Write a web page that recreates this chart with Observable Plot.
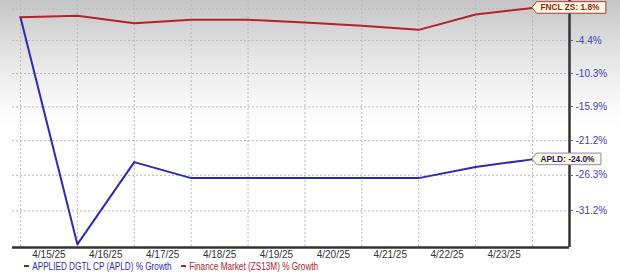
<!DOCTYPE html>
<html><head><meta charset="utf-8">
<script src="https://cdn.jsdelivr.net/npm/d3@7"></script>
<script src="https://cdn.jsdelivr.net/npm/@observablehq/plot@0.6"></script>
<style>
html,body{margin:0;padding:0;}
body{width:620px;height:276px;overflow:hidden;background:linear-gradient(#c5c5c5 0px,#e4e4e4 55px,#fbfbfb 110px,#ffffff 130px,#ffffff 276px);font-family:"Liberation Sans",Arial,sans-serif;}
#chart svg{display:block;overflow:visible;}
#legend{position:relative;height:17px;font:10px "Liberation Sans",Arial,sans-serif;line-height:13px;}
#legend .item{position:absolute;top:1px;white-space:nowrap;transform:scaleX(0.82);transform-origin:0 50%;}
#legend .mk{display:inline-block;width:6px;height:2px;vertical-align:middle;margin-right:4px;position:relative;top:-1px;}
</style>
</head><body>
<div id="chart"></div>
<div id="legend"></div>
<script>
// ---- data ----
const tickLabels = ["4/15/25","4/16/25","4/17/25","4/18/25","4/19/25","4/20/25","4/21/25","4/22/25","4/23/25"];
const apldGrowth = [0, -35.5, -24.4, -26.7, -26.7, -26.7, -26.7, -26.7, -25.1, -24.0];
const fnclGrowth = [0, 0.27, -1.16, -0.5, -0.5, -1.0, -1.65, -2.41, 0.52, 1.8];
const yTickValues = [-4.4, -10.3, -15.9, -21.2, -26.3, -31.2];
const yGridValues = [1.6, -4.4, -10.3, -15.9, -21.2, -26.3, -31.2];
const seriesNames = ["APPLIED DGTL CP (APLD) % Growth", "Finance Market (ZS13M) % Growth"];
const endLabels = ["APLD: -24.0%", "FNCL ZS: 1.8%"];

const blue = "#2b2bb3", red = "#b3222a";
const f = p => 1 + p / 100;
const apld = apldGrowth.map((v, i) => ({i, v}));
const fncl = fnclGrowth.map((v, i) => ({i, v}));
const xDomain = [-0.14, 9.65];
const yDomain = [0.6411, 1.0328];
const yTicks = yTickValues.map(t => ({t, y: f(t)}));

const chart = Plot.plot({
  width: 620, height: 259,
  marginLeft: 12, marginRight: 51, marginTop: 0, marginBottom: 12,
  style: {background: "transparent", fontFamily: "'Liberation Sans', Arial, sans-serif", fontSize: "10px", overflow: "visible"},
  x: {type: "linear", domain: xDomain, label: null},
  y: {type: "log", domain: yDomain, label: null, axis: null},
  marks: [
    Plot.ruleX(d3.range(apldGrowth.length), {stroke: "#b8b8b8", strokeDasharray: "2,2", strokeWidth: 1}),
    Plot.ruleY(yGridValues.map(f), {stroke: "#b8b8b8", strokeDasharray: "2,2", strokeWidth: 1}),
    Plot.ruleY([yDomain[0]], {stroke: "#333", strokeWidth: 2.5}),
    Plot.ruleX([xDomain[1]], {stroke: "#333", strokeWidth: 2.5}),
    Plot.line(apld, {x: "i", y: d => f(d.v), stroke: blue, strokeWidth: 2}),
    Plot.line(fncl, {x: "i", y: d => f(d.v), stroke: red, strokeWidth: 2}),
    Plot.axisX(tickLabels.map((_, k) => k + 0.5), {tickSize: 0, tickPadding: 3, fill: "#333", fontSize: 10, tickFormat: d => tickLabels[Math.round(d - 0.5)]}),
    Plot.text(yTicks, {y: "y", x: xDomain[1], dx: 6, textAnchor: "start", fill: "#4242b4", fontSize: 10, text: d => d.t.toFixed(1) + "%"})
  ]
});
document.getElementById("chart").appendChild(chart);

const sx = chart.scale("x"), sy = chart.scale("y");
const svg = d3.select(chart);

// ---- right-axis tick marks through the plot's scales ----
const tg = svg.append("g").attr("stroke", "#5a5ab8").attr("stroke-width", 1);
for (const d of yTicks) {
  const xx = sx.apply(xDomain[1]), yy = Math.round(sy.apply(d.y)) + 0.5;
  tg.append("line").attr("x1", xx + 1).attr("x2", xx + 4).attr("y1", yy).attr("y2", yy);
}

// ---- end-of-series callouts, positioned through the plot's scales ----
const callouts = [
  {series: apldGrowth, text: endLabels[0], stroke: "#8a8ac0", color: "#20206a"},
  {series: fnclGrowth, text: endLabels[1], stroke: "#b03a3a", color: "#9a1a1a"}
];
for (const c of callouts) {
  const last = c.series.length - 1;
  const px = sx.apply(last), py = sy.apply(f(c.series[last]));
  const g = svg.append("g");
  const path = g.append("path");
  const t = g.append("text")
    .attr("x", px + 8.5).attr("y", py).attr("dy", "0.35em")
    .attr("text-anchor", "start")
    .attr("fill", c.color)
    .style("font", "bold 8.3px 'Liberation Sans', Arial, sans-serif")
    .text(c.text);
  const w = t.node().getComputedTextLength();
  const r = px + 8.5 + w + 6.5, h = 5.8;
  path.attr("d", `M${px},${py}L${px + 4.5},${py - h}L${r},${py - h}L${r},${py + h}L${px + 4.5},${py + h}Z`)
    .attr("fill", "#fdf9de").attr("stroke", c.stroke).attr("stroke-width", 1);
}

// ---- legend ----
const legend = document.getElementById("legend");
const lx = [24, 181];
[blue, red].forEach((col, k) => {
  const it = document.createElement("div");
  it.className = "item";
  it.style.left = lx[k] + "px";
  it.style.color = col;
  const mk = document.createElement("span");
  mk.className = "mk"; mk.style.background = col;
  it.appendChild(mk);
  it.appendChild(document.createTextNode(seriesNames[k]));
  legend.appendChild(it);
});
</script>
</body></html>
